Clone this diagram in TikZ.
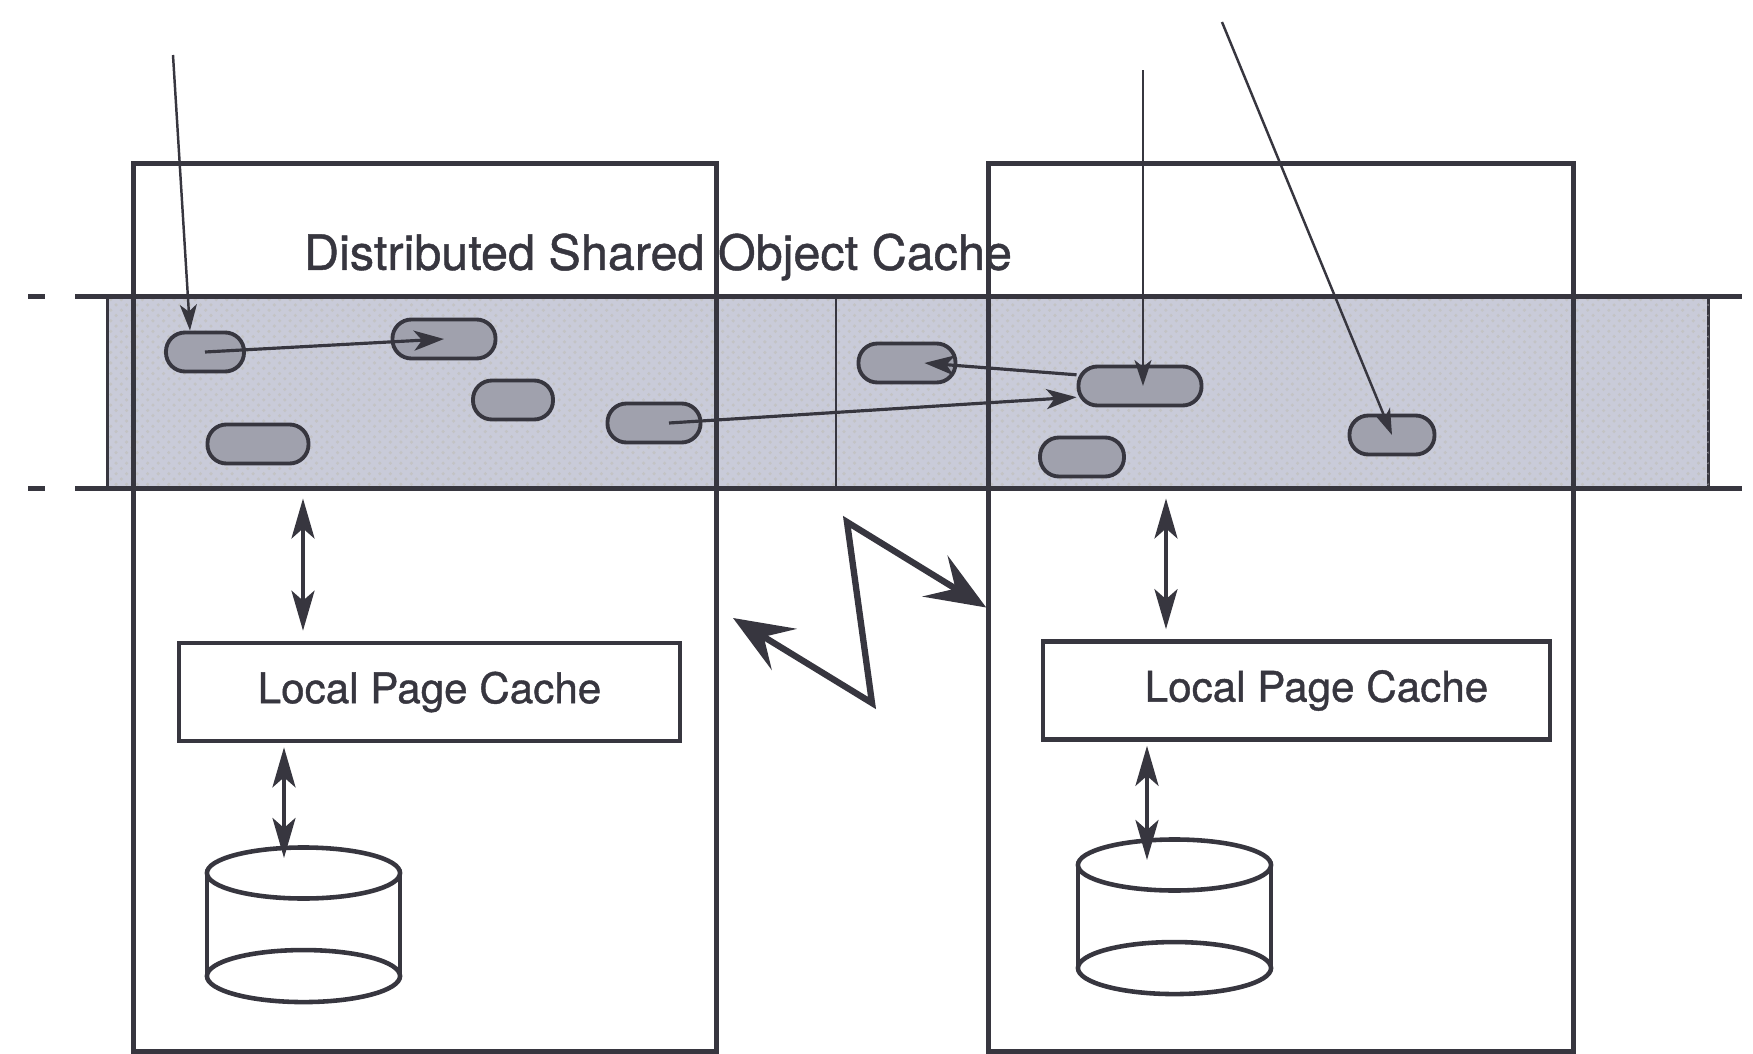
\documentclass[tikz,border=0pt]{standalone}
\usepackage{fontspec}
\setmainfont{TeX Gyre Heros}
\newfontfamily\heavysans{TeX Gyre Heros}[FakeBold=0.9]
\usepackage{tikz}
\usetikzlibrary{arrows.meta,calc,patterns}
\definecolor{ink}  {HTML}{37363F}
\definecolor{haze} {HTML}{C9CBD9}
\definecolor{blob} {HTML}{A0A1AD}
\tikzset{
  >=stealth,
  % --- nodes
  host/.style  = {draw=ink, line width=1.5pt, minimum width=5.82cm,
                  minimum height=8.87cm, inner sep=0pt},
  band/.style  = {draw=ink, line width=0.8pt, fill=haze,
                  postaction={pattern=crosshatch dots, pattern color=ink!30},
                  minimum width=16cm, minimum height=1.89cm, inner sep=0pt},
  obj/.style   = {draw=ink, line width=1.1pt, fill=blob, rounded corners=1.9mm,
                  minimum height=0.39cm, inner sep=0pt},
  pcbox/.style = {draw=ink, line width=1.3pt, fill=white, minimum height=0.98cm,
                  inner sep=0pt, text=ink, font=\heavysans\fontsize{12}{14}\selectfont},
  lbl/.style   = {font=\heavysans\fontsize{13.8}{16}\selectfont, text=ink, inner sep=0pt},
  % --- lines
  rail/.style  = {draw=ink, line width=1.4pt},
  disk/.style  = {draw=ink, line width=1.3pt},
  e/.style     = {-{Stealth[length=3mm,width=2mm,inset=0.8mm]}, line width=0.9pt, draw=ink},
  ein/.style   = {-{Stealth[length=2.6mm,width=1.7mm,inset=0.7mm]}, line width=0.7pt, draw=ink},
  dbl/.style   = {{Stealth[length=4mm,width=2.3mm,inset=1mm]}-{Stealth[length=4mm,width=2.3mm,inset=1mm]},
                  line width=1.1pt, draw=ink},
  bolt/.style  = {{Stealth[length=6mm,width=4.8mm,inset=2.4mm]}-{Stealth[length=6mm,width=4.8mm,inset=2.4mm]},
                  line width=1.8pt, draw=ink, line join=miter},
}
\begin{document}
\begin{tikzpicture}[x=0.01cm, y=-0.01cm]
  \useasboundingbox (0,0) rectangle (1753,1054);

  % shared object band
  \node[band] (band) at (908,392.5) {};
  \node[lbl] (dsoc) at (658,257) {Distributed Shared Object Cache};
  \draw[rail] ([xshift=-3.1mm]band.north west) -- ([xshift=3.2mm]band.north east);
  \draw[rail] ([xshift=-3.1mm]band.south west) -- ([xshift=3.2mm]band.south east);
  \draw[rail] ([xshift=-7.8mm]band.north west) -- ([xshift=-6.1mm]band.north west);
  \draw[rail] ([xshift=-7.8mm]band.south west) -- ([xshift=-6.1mm]band.south west);
  \draw[ink, line width=0.8pt] ([xshift=-7.2mm]band.north) -- ([xshift=-7.2mm]band.south);

  % the two sites
  \node[host] (lhost) at (425,607.5) {};
  \node[host, minimum width=5.84cm] (rhost) at (1281,607.5) {};

  % objects
  \foreach \n/\x/\y/\w in {1/205/352/0.78, 2/444/339/1.03, 3/513/400/0.80,
                           4/258/444/1.01, 5/654/423/0.93, 6/907/363/0.97,
                           7/1140/386/1.23, 8/1082/457/0.84, 9/1392/435/0.85}
    \node[obj, minimum width=\w cm] (o\n) at (\x,\y) {};

  % page caches and disks
  \node[pcbox, minimum width=5.01cm] (lpc) at (429.5,692) {Local Page Cache};
  \node[pcbox, minimum width=5.07cm] (rpc) at (1296.5,690.5) {\hspace*{4mm}Local Page Cache};
  \coordinate (ldisk) at (303.5,873);
  \coordinate (rdisk) at (1174.5,865);
  \foreach \d in {ldisk,rdisk}{
    \draw[disk] (\d) ellipse [x radius=0.965cm, y radius=0.255cm];
    \draw[disk] ([yshift=-1.03cm]\d) ellipse [x radius=0.965cm, y radius=0.26cm];
    \draw[disk] ([xshift=-0.965cm]\d) -- ++(0,103);
    \draw[disk] ([xshift=0.965cm]\d) -- ++(0,103);
  }

  % references into the cache
  \coordinate (in1) at (173,55);
  \coordinate (in2) at (1143,70);
  \coordinate (in3) at (1222,22);
  \draw[ein] (in1) -- (o1.125);
  \draw[e] (o1.center) -- (o2.center);
  \draw[e] ([xshift=1.5mm]o5.center) -- (o7.190);
  \draw[e] (o7.170) -- ([xshift=-3.3mm]o6.east);
  \draw[ein] (in2) -- (in2 |- o7.center);
  \draw[ein] (in3) -- (o9.center);

  % cache <-> page cache <-> disk
  \draw[dbl, shorten <=1mm, shorten >=1mm] (band.south -| 303,0) -- (lpc.north -| 303,0);
  \draw[dbl, shorten <=0.4mm, shorten >=1.5mm] (lpc.south -| 284,0) -- (ldisk -| 284,0);
  \draw[dbl, shorten <=1mm, shorten >=1mm] (band.south -| 1166,0) -- (rpc.north -| 1166,0);
  \draw[dbl, shorten <=0.4mm, shorten >=0.5mm] (rpc.south -| 1147,0) -- (rdisk -| 1147,0);

  % network link
  \coordinate (zl) at (733,618);
  \coordinate (zb) at (872,703);
  \coordinate (zt) at (847,522);
  \draw[bolt] (zl) -- (zb) -- (zt) -- (rhost.west);
\end{tikzpicture}
\end{document}
